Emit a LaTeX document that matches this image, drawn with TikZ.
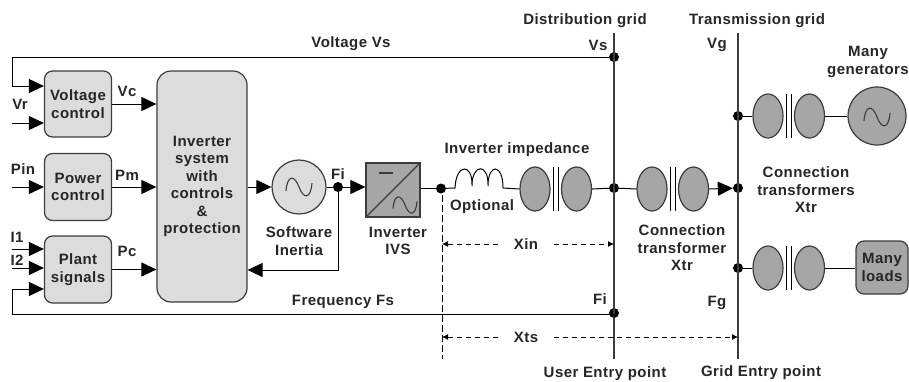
\documentclass[tikz,border=0pt]{standalone}
\usepackage{fontspec}
\setmainfont[LetterSpace=3]{Liberation Sans}
\usepackage{xcolor}
\usetikzlibrary{shapes, arrows.meta}
\definecolor{lightgrey}{HTML}{DCDCDC}
\definecolor{midgrey}{HTML}{A6A6A6}
\definecolor{edgegrey}{HTML}{3C3C3C}
\definecolor{textgrey}{HTML}{262626}
\tikzstyle{line} = [draw=black, line width=1pt]
\tikzstyle{sig} = [line, -{Triangle[length=15pt,width=14pt]}]
\tikzstyle{dim} = [draw=black, line width=0.8pt, dash pattern=on 5pt off 4pt, -{Latex[length=6pt,width=6pt]}]
\tikzstyle{bus} = [draw=edgegrey, line width=1.2pt]
\tikzstyle{block}=[draw=edgegrey, line width=1.2pt, rectangle, rounded corners=8pt, fill=lightgrey, font=\bfseries\fontsize{15}{17.5}\selectfont, text=textgrey, align=center, inner sep=0pt]
\tikzstyle{lbl}=[font=\bfseries\fontsize{15}{17.5}\selectfont, text=textgrey, align=center, inner sep=0pt]
\tikzstyle{dot}=[circle, fill=black, inner sep=0pt, minimum size=10pt]
\tikzstyle{coilend}=[ellipse, draw=edgegrey, line width=1.2pt, fill=midgrey, minimum width=30pt, minimum height=44pt, inner sep=0pt]
\tikzstyle{source}=[circle, draw=edgegrey, line width=1.2pt, inner sep=0pt]
\newcommand{\trafo}[3]{
		\node[coilend] (#1a) at (#2,#3) {};
		\node[coilend] (#1b) at (#2+41.5,#3) {};
		\draw[line width=1pt] (#2+18.5,#3-22) -- (#2+18.5,#3+22);
		\draw[line width=1pt] (#2+23,#3-22) -- (#2+23,#3+22);
}
\newcommand{\sinewave}[3]{
		\draw[line width=1.1pt, edgegrey, shift={(#1,#2)}, scale=#3] (-1,.3) .. controls (-.9,-.95) and (-.35,-.95) .. (0,0) .. controls (.35,.95) and (.9,.95) .. (1,-.3);
}

\begin{document}
\begin{tikzpicture}[x=1pt, y=-1pt]
		\useasboundingbox (0,0) rectangle (909,381);
		\node[block, minimum width=67pt, minimum height=66pt] (VC) at (78,104) {Voltage\\control};
		\node[block, minimum width=67pt, minimum height=67pt] (PC) at (78,187) {Power\\control};
		\node[block, minimum width=67pt, minimum height=67pt] (PS) at (78,269.5) {Plant\\signals};
		\node[block, rounded corners=14pt, minimum width=90pt, minimum height=231pt] (INV) at (202,186.5) {Inverter\\system\\with\\controls\\\&\\protection};
		\node[source, fill=lightgrey, minimum size=54pt] (SI) at (299,187) {};
		\node[dot] (Fi) at (338,187) {};
		\node[rectangle, draw=edgegrey, line width=1.2pt, fill=midgrey, minimum width=54pt, minimum height=54pt, inner sep=0pt] (IVS) at (393,190) {};
		\node[dot] (Out) at (441,188.5) {};
		\node[dot] (Bd1) at (614,57) {};
		\node[dot] (Bd2) at (614,188) {};
		\node[dot] (Bd3) at (614,313) {};
		\node[dot] (Bt1) at (738,116) {};
		\node[dot] (Bt2) at (738,188) {};
		\node[dot] (Bt3) at (738,268) {};
		\trafo{TI}{535}{189}
		\trafo{TC}{652}{189}
		\trafo{TG}{768}{116}
		\trafo{TL}{768}{268}
		\node[source, fill=midgrey, minimum size=58pt] (GEN) at (877,116) {};
		\node[block, fill=midgrey, minimum width=52pt, minimum height=53pt] (LD) at (882,267.5) {Many\\loads};
		\sinewave{299}{187}{13}
		\sinewave{877}{117}{13}
		\sinewave{405}{205}{12}
		\draw[line width=1.1pt, edgegrey] (IVS.south west) -- (IVS.north east);
		\draw[line width=1.1pt, edgegrey] (379,173) -- (393,173);
		% grid bars
		\coordinate (DT) at (614,33);
		\coordinate (DB) at (614,359);
		\coordinate (GT) at (738,33);
		\coordinate (GB) at (738,359);
		\draw[bus] (DT) -- (DB);
		\draw[bus] (GT) -- (GB);
		% feedback lines
		\coordinate (Vs1) at (12,57);
		\coordinate (Vs2) at (12,86);
		\coordinate (Fs1) at (12,314);
		\coordinate (Fs2) at (12,289);
		\draw[sig] (Bd1) -- (Vs1) -- (Vs2) -- (Vs2 -| VC.west);
		\draw[sig] (Bd3) |- (Fs1) -- (Fs2) -- (Fs2 -| PS.west);
		\coordinate (VrIn) at (12,123);
		\coordinate (PinIn) at (12,187);
		\coordinate (I1In) at (12,249);
		\coordinate (I2In) at (12,268);
		\draw[sig] (VrIn) -- (VrIn -| VC.west);
		\draw[sig] (PinIn) -- (PC.west);
		\draw[sig] (I1In) -- (I1In -| PS.west);
		\draw[sig] (I2In) -- (I2In -| PS.west);
		\draw[sig] (VC.east) -- (VC.east -| INV.west);
		\draw[sig] (PC.east) -- (PC.east -| INV.west);
		\draw[sig] (PS.east) -- (PS.east -| INV.west);
		\draw[sig] (INV.east |- SI.west) -- (SI.west);
		\draw[line] (SI.east) -- (Fi);
		\draw[sig] (Fi) -- (Fi -| IVS.west);
		\coordinate (FiB) at (338,270);
		\draw[sig] (Fi) -- (FiB) -- (FiB -| INV.east);
		\draw[line] (Out -| IVS.east) -- (Out);
		% inductor
		\coordinate (L1) at (455,188);
		\coordinate (L2) at (503,188);
		\draw[line] (Out) -- (L1) .. controls (456,163) and (473,163) .. (472,186) .. controls (472,163) and (489,163) .. (488,186) .. controls (488,163) and (503,163) .. (L2);
		\draw[line] (L2) -- (TIa.west);
		\draw[line] (TIb.east) -- (Bd2);
		\draw[line] (Bd2) -- (TCa.west);
		\draw[sig] (TCb.east) -- (Bt2);
		\draw[line] (Bt1) -- (TGa.west);
		\draw[line] (TGb.east) -- (GEN.west);
		\draw[line] (Bt3) -- (TLa.west);
		\draw[line] (TLb.east) -- (LD.west |- TLb.east);
		% distances
		\coordinate (DsT) at (442,195);
		\coordinate (DsB) at (442,359);
		\draw[draw=black, line width=1pt, dash pattern=on 7pt off 3pt] (DsT) -- (DsB);
		\node[lbl, minimum width=56pt] (Xin) at (526,244) {Xin};
		\node[lbl, minimum width=56pt] (Xts) at (526,337) {Xts};
		\draw[dim] (Xin) -- (Xin -| DsT);
		\draw[dim] (Xin) -- (Xin -| DB);
		\draw[dim] (Xts) -- (Xts -| DsT);
		\draw[dim] (Xts) -- (Xts -| GB);
		% labels
		\node[lbl] (tVs) at (351,44) {Voltage Vs};
		\node[lbl] (tFs) at (343,302) {Frequency Fs};
		\node[lbl] (tDist) at (585,21) {Distribution grid};
		\node[lbl] (tTran) at (757,21) {Transmission grid};
		\node[lbl] (tVsR) at (598,45) {Vs};
		\node[lbl] (tVg) at (717,45) {Vg};
		\node[lbl] (tFiR) at (600,299) {Fi};
		\node[lbl] (tFg) at (717,303) {Fg};
		\node[lbl] (tGen) at (868,62) {Many\\generators};
		\node[lbl] (tXtrs) at (806,190) {Connection\\transformers\\Xtr};
		\node[lbl] (tXtr) at (682,248) {Connection\\transformer\\Xtr};
		\node[lbl] (tUser) at (605,374) {User Entry point};
		\node[lbl] (tGrid) at (761,373) {Grid Entry point};
		\node[lbl] (tImp) at (517,150) {Inverter impedance};
		\node[lbl] (tOpt) at (482,207) {Optional};
		\node[lbl] (tIVS) at (398,241) {Inverter\\IVS};
		\node[lbl] (tSI) at (299,241) {Software\\Inertia};
		\node[lbl] (tFi) at (338,174) {Fi};
		\node[lbl] (tVr) at (20,104) {Vr};
		\node[lbl] (tVc) at (127,91) {Vc};
		\node[lbl] (tPin) at (23,169) {Pin};
		\node[lbl] (tPm) at (127,175) {Pm};
		\node[lbl] (tI1) at (17,237) {I1};
		\node[lbl] (tI2) at (17,260) {I2};
		\node[lbl] (tPc) at (127,251) {Pc};
	\end{tikzpicture}
\end{document}
